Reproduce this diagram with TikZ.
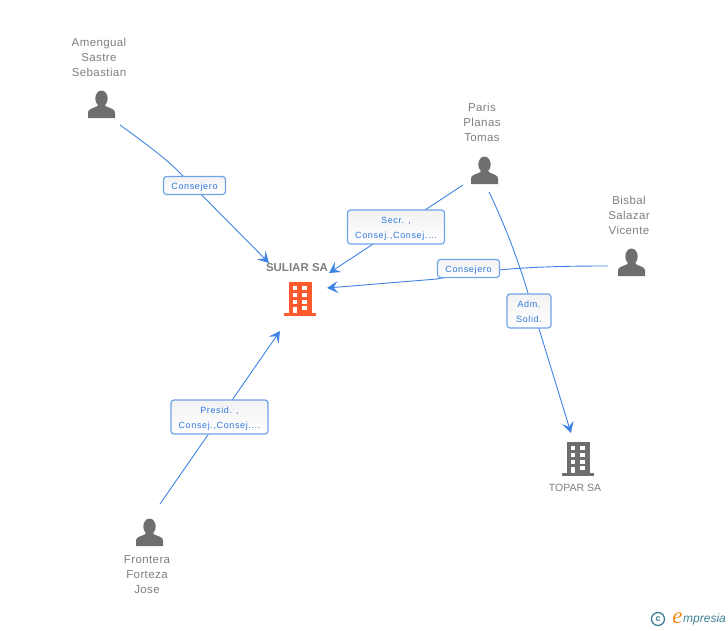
\documentclass[tikz,border=0pt]{standalone}
\usepackage{fontspec}
\setmainfont{Liberation Sans}
\newfontfamily\lblfont[LetterSpace=7]{Liberation Sans}
\newfontfamily\namefont[LetterSpace=3.5]{Liberation Sans}
\newfontfamily\logoefont{Liberation Serif}
\usetikzlibrary{arrows.meta}
\definecolor{linkblue}{HTML}{3F83E4}
\definecolor{boxblue}{HTML}{70A3EA}
\definecolor{lbltext}{HTML}{2F78DC}
\definecolor{namegrey}{HTML}{7E7E7E}
\definecolor{icongrey}{HTML}{6E6E6E}
\definecolor{iconorange}{HTML}{FF5A2D}
\definecolor{logoteal}{HTML}{3F8198}
\definecolor{logoorange}{HTML}{F08A1D}
\newcommand{\pushA}{\rule{0pt}{9pt}}
\newcommand{\pushB}{\rule{0pt}{9.5pt}}
\tikzset{
  x=1pt,y=-1pt,
  link/.style={draw=linkblue,line width=0.9pt},
  linkarrow/.style={link,-{Stealth[length=11pt,width=12pt,inset=4.5pt]}},
  rolebox/.style={draw=boxblue,line width=1.2pt,rounded corners=3pt,top color=black!5,bottom color=white,
    text=lbltext,font=\lblfont\fontsize{9}{15}\selectfont,align=center,inner sep=0pt},
  namelabel/.style={text=namegrey,font=\namefont\fontsize{11.5}{15}\selectfont,align=center,inner sep=0pt},
  personicon/.pic={
    \fill[icongrey] (-13.5,13.5) -- (-13.5,8) .. controls (-13.5,4.5) and (-9,4) .. (-5,2) -- (-3,0) -- (3,0) -- (5,2)
       .. controls (9,4) and (13.5,4.5) .. (13.5,8) -- (13.5,13.5) -- cycle;
    \fill[icongrey] (0,-6) ellipse (6.2pt and 8pt);
  },
  buildingicon/.pic={
    \fill[pic actions] (-11.5,-17) rectangle (11.5,14);
    \fill[pic actions] (-16,14) rectangle (16,17);
    \foreach \yy in {-13,-6.2,0.6}{
      \fill[white] (-7.5,\yy) rectangle (-3,\yy+4.2);
      \fill[white] (1.5,\yy) rectangle (6.5,\yy+4.2);
    }
    \fill[white] (-7.5,7.5) rectangle (-3,14);
    \fill[white] (1.5,7) rectangle (6.5,11);
  },
}
\begin{document}
\begin{tikzpicture}
\useasboundingbox (0,0) rectangle (728,630);
% icons
\pic at (101.5,104.5) {personicon};
\pic at (484.5,170.5) {personicon};
\pic at (631.5,262.5) {personicon};
\pic at (149.5,532.5) {personicon};
\pic[fill=iconorange] at (300,299) {buildingicon};
\pic[fill=icongrey] at (578,459) {buildingicon};
% names
\node[namelabel] (amengual) at (99,57) {Amengual\\Sastre\\Sebastian};
\node[namelabel] (paris) at (482,122) {Paris\\Planas\\Tomas};
\node[namelabel] (bisbal) at (629,215) {Bisbal\\Salazar\\Vicente};
\node[namelabel] (frontera) at (147,575) {Frontera\\Forteza\\Jose};
\node[namelabel,font=\bfseries\fontsize{11.5}{15}\selectfont] (suliar) at (297,268) {SULIAR SA};
\node[namelabel,font=\fontsize{10.5}{15}\selectfont] (topar) at (575,488) {TOPAR SA};
% connector ends
\coordinate (amengualEnd) at (120,125);
\coordinate (suliarA) at (269,263);
\coordinate (parisEnd) at (463,185);
\coordinate (suliarB) at (329,273);
\coordinate (bisbalEnd) at (608,266);
\coordinate (suliarC) at (327,288);
\coordinate (fronteraEnd) at (160,504);
\coordinate (suliarD) at (280,331);
\coordinate (parisEndB) at (489,192);
\coordinate (toparEnd) at (571,433);
% connectors
\draw[linkarrow] (amengualEnd) .. controls (145,143) and (168,160) .. (183,176) -- (suliarA);
\draw[linkarrow] (parisEnd) -- (suliarB);
\draw[linkarrow] (bisbalEnd) .. controls (555,266) and (495,267) .. (437,279) -- (suliarC);
\draw[linkarrow] (fronteraEnd) -- (suliarD);
\draw[linkarrow] (parisEndB) .. controls (505,225) and (518,260) .. (528,293) -- (toparEnd);
% role labels
\node[rolebox,minimum width=62pt,minimum height=18pt] (r1) at (194.5,185.5) {\rule{0pt}{9pt}Consejero};
\node[rolebox,minimum width=97pt,minimum height=34pt] (r2) at (396,227) {\pushB Secr. ,\\Consej.,Consej....};
\node[rolebox,minimum width=62pt,minimum height=18pt] (r3) at (468.5,268.5) {\rule{0pt}{9pt}Consejero};
\node[rolebox,minimum width=44pt,minimum height=34pt] (r4) at (529,311) {\pushA Adm.\\Solid.};
\node[rolebox,minimum width=97pt,minimum height=34pt] (r5) at (219.5,417) {\pushB Presid. ,\\Consej.,Consej....};
% logo
\node[draw=logoteal,line width=1.3pt,circle,minimum size=13pt,inner sep=0pt,text=logoteal,font=\bfseries\fontsize{9}{9}\selectfont] (copy) at (658,619) {c};
\node[text=logoorange,inner sep=0pt,font=\logoefont\itshape\fontsize{23}{23}\selectfont] (logoe) at (677.5,618.5) {e};
\node[text=logoteal,inner sep=0pt,anchor=west,font=\itshape\fontsize{12}{12}\selectfont] (logot) at (683,619) {mpresia};
\end{tikzpicture}
\end{document}
